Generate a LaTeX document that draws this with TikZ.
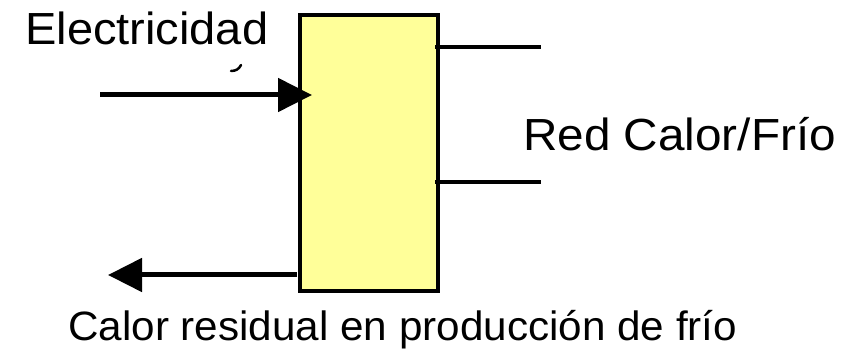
\documentclass[tikz,border=0pt]{standalone}
\usepackage{fontspec}
\setmainfont{Liberation Sans}
\usetikzlibrary{arrows.meta}
\definecolor{boxyellow}{HTML}{FFFF99}
\begin{document}
\begin{tikzpicture}[x=1pt,y=1pt,
  lbl/.style={inner sep=0pt, anchor=base west},
  flow/.style={line width=5pt, -{Triangle[length=34pt,width=33pt]}},
  outline/.style={line width=4pt}]
\useasboundingbox (0,0) rectangle (845,350);
\node[draw, outline, fill=boxyellow, minimum width=138pt, minimum height=276pt, outer sep=0pt, inner sep=0pt] (box) at (369,197) {};
\node[lbl] (elec) at (25,305) {\scalebox{1.045}[1]{\fontsize{45}{48}\selectfont Electricidad}};
\node[lbl] (red) at (523,199) {\scalebox{1.06}[1]{\fontsize{45}{48}\selectfont Red Calor/Frío}};
\node[lbl] (calor) at (68,9) {\scalebox{1.03}[1]{\fontsize{41}{44}\selectfont Calor residual en producción de frío}};
\coordinate (ein) at (100,255);
\coordinate (cout) at (108,75);
\coordinate (r1) at (541,303);
\coordinate (r2) at (541,168);
\draw[flow] (ein) -- ([xshift=12pt]box.west |- ein);
\draw[flow] ([xshift=-3pt]box.west |- cout) -- (cout);
\draw[outline] ([xshift=-3pt]box.east |- r1) -- (r1);
\draw[outline] ([xshift=-3pt]box.east |- r2) -- (r2);
\draw[line width=2.5pt, line cap=round] (231,279) .. controls (236,279) and (239,281) .. (241,285);
\end{tikzpicture}
\end{document}
